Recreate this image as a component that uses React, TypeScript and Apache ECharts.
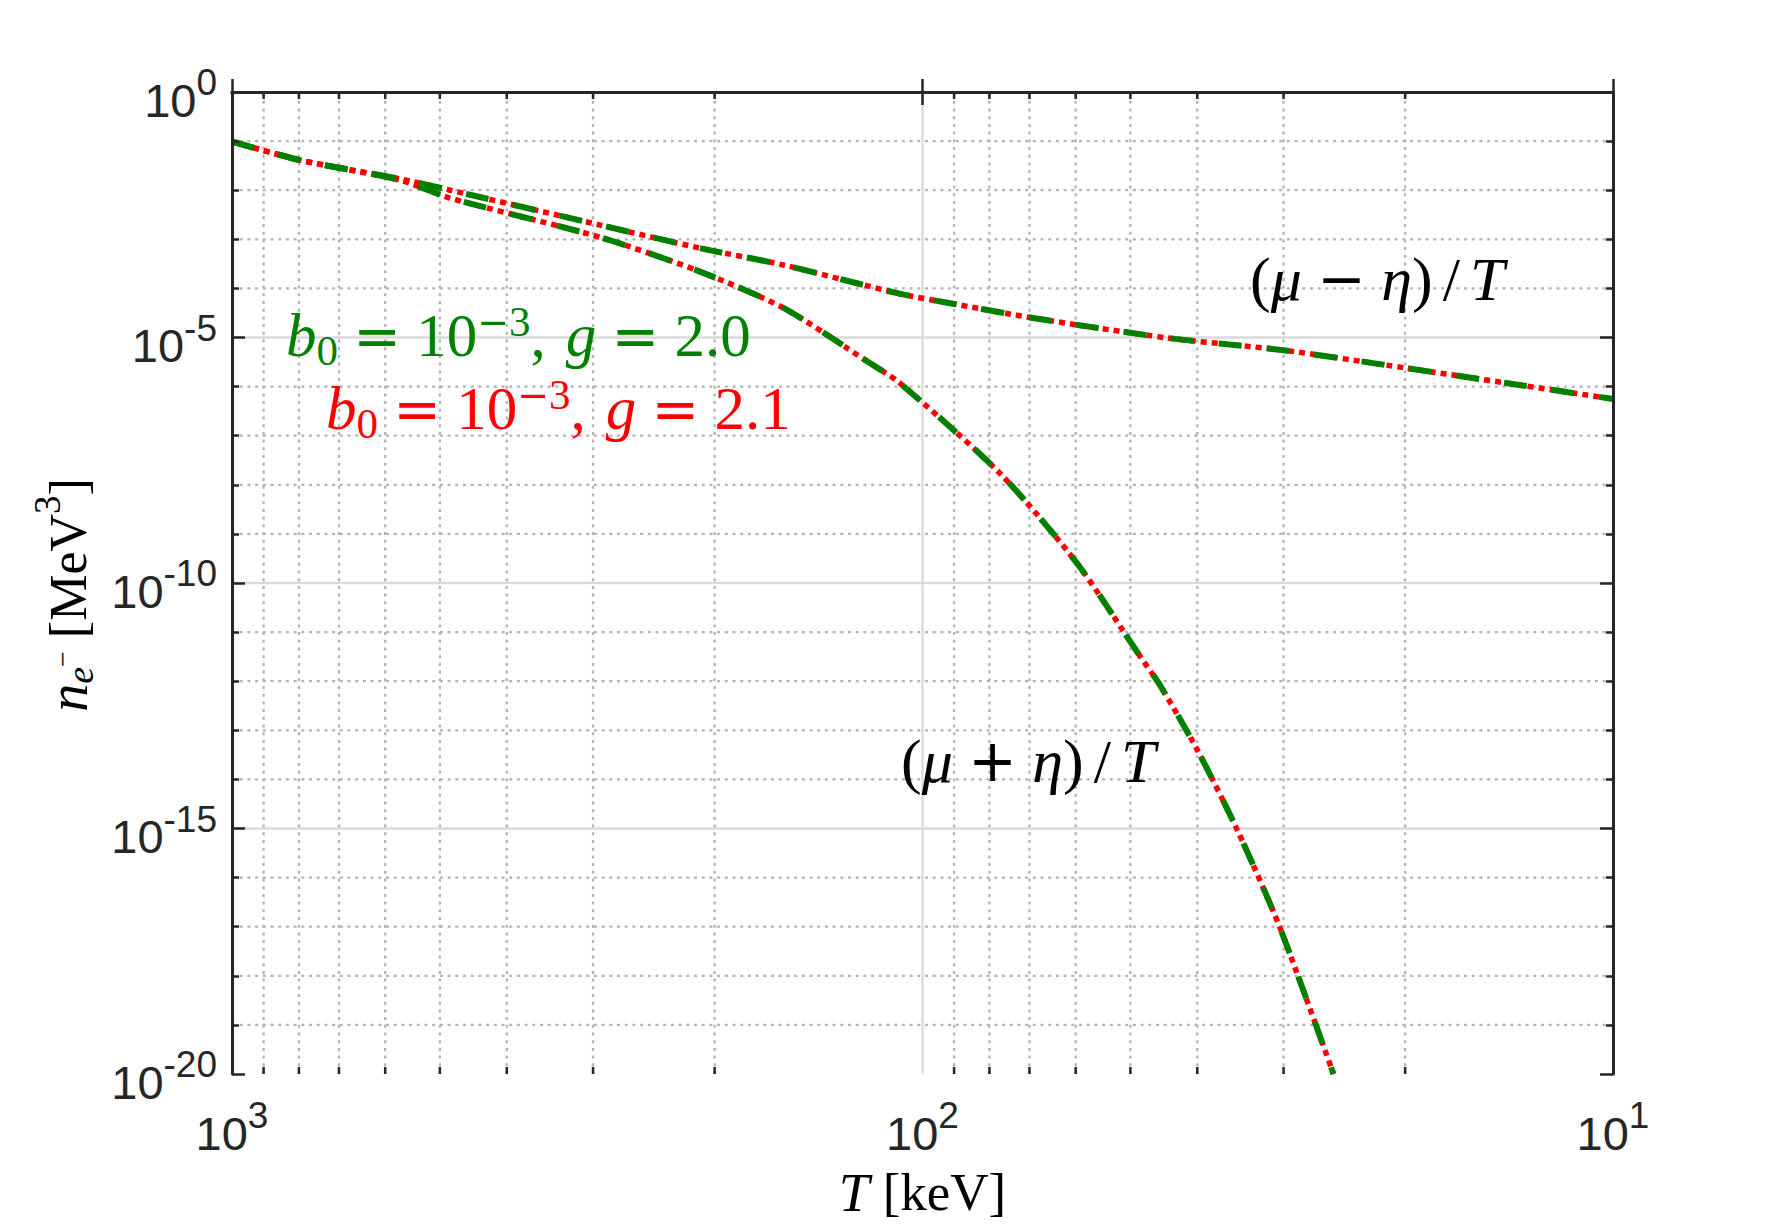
import React, { useEffect, useRef } from 'react';
import * as echarts from 'echarts';

// ---- data (T in keV, n in MeV^3) ----
// (mu - eta)/T branch, g = 2.0
const T_UPPER_G20 = [1000, 797, 571, 483, 293, 210, 159, 108, 91.2, 69.2, 44.2, 30, 20, 10];
const N_UPPER_G20 = [9.8e-2, 4.1e-2, 1.7e-2, 1.0e-2, 1.95e-3, 6.6e-4, 3.0e-4, 7.8e-5, 5.0e-5, 2.5e-5, 9.8e-6, 5.5e-6, 2.4e-6, 5.6e-7];
// (mu + eta)/T branch, g = 2.0
const T_LOWER_G20 = [1000, 797, 571, 483, 293, 210, 159, 120, 108, 77.2, 59.7, 48.4, 45.3, 40, 35, 30.4, 25.4];
const N_LOWER_G20 = [9.8e-2, 4.1e-2, 1.6e-2, 6.9e-3, 1.1e-3, 2.2e-4, 4.0e-5, 3.2e-6, 1.2e-6, 1.7e-8, 2.5e-10, 3.2e-12, 8.3e-13, 4.0e-14, 9.3e-16, 1.0e-17, 1.0e-20];
// g = 2.1 curves (coincide with g = 2.0 at the resolution of the picture)
const T_UPPER_G21 = [1000, 797, 571, 483, 293, 210, 159, 108, 91.2, 69.2, 44.2, 30, 20, 10];
const N_UPPER_G21 = [9.8e-2, 4.1e-2, 1.7e-2, 1.0e-2, 1.95e-3, 6.6e-4, 3.0e-4, 7.8e-5, 5.0e-5, 2.5e-5, 9.8e-6, 5.5e-6, 2.4e-6, 5.6e-7];
const T_LOWER_G21 = [1000, 797, 571, 483, 293, 210, 159, 120, 108, 77.2, 59.7, 48.4, 45.3, 40, 35, 30.4, 25.4];
const N_LOWER_G21 = [9.8e-2, 4.1e-2, 1.6e-2, 6.9e-3, 1.1e-3, 2.2e-4, 4.0e-5, 3.2e-6, 1.2e-6, 1.7e-8, 2.5e-10, 3.2e-12, 8.3e-13, 4.0e-14, 9.3e-16, 1.0e-17, 1.0e-20];

// ---- axes ----
const X_MIN = 10;
const X_MAX = 1000;
const Y_MIN = 1e-20;
const Y_MAX = 1;
const Y_TICK_EXPONENTS = [0, -5, -10, -15, -20];
const X_MAJOR_GRID = [100];
const X_MINOR_GRID = [900, 800, 700, 600, 500, 400, 300, 200, 90, 80, 70, 60, 50, 40, 30, 20];
const Y_MAJOR_GRID = [1e-5, 1e-10, 1e-15];
const Y_MINOR_GRID = [
  1e-1, 1e-2, 1e-3, 1e-4, 1e-6, 1e-7, 1e-8, 1e-9, 1e-11, 1e-12, 1e-13, 1e-14,
  1e-16, 1e-17, 1e-18, 1e-19,
];

const SANS = '"Liberation Sans", Arial, Helvetica, sans-serif';
const SERIF = '"Liberation Serif", "Times New Roman", serif';
const OPS = '"DejaVu Sans", sans-serif';
const AXIS_COLOR = '#262626';
const MINOR_GRID = '#b3b3b3';
const MAJOR_GRID = '#dadada';

const pairs = (xs: number[], ys: number[]) => xs.map((x, i) => [x, ys[i]]);

const tickRich = {
  b: { fontFamily: SANS, fontSize: 47, lineHeight: 70, height: 54, verticalAlign: 'bottom', color: AXIS_COLOR },
  s: { fontFamily: SANS, fontSize: 37, lineHeight: 51, height: 51, verticalAlign: 'top', color: AXIS_COLOR },
};

const annRich = (color: string, size: number) => ({
  r: { fontFamily: SERIF, fontSize: size, lineHeight: 70, height: 70, verticalAlign: 'middle', fill: color, color },
  i: { fontFamily: SERIF, fontStyle: 'italic', fontSize: size, lineHeight: 70, height: 70, verticalAlign: 'middle', fill: color, color },
  op: { fontFamily: OPS, fontSize: Math.round(size * 0.93), lineHeight: 70, height: 70, verticalAlign: 'middle', fill: color, color },
  ts: { fontFamily: SERIF, fontSize: 40, lineHeight: 70, height: 70, verticalAlign: 'middle', fill: color, color },
  sup: { fontFamily: SERIF, fontSize: Math.round(size * 0.7), lineHeight: 42, height: 42, verticalAlign: 'top', fill: color, color },
  supop: { fontFamily: OPS, fontSize: Math.round(size * 0.62), lineHeight: 42, height: 42, verticalAlign: 'top', fill: color, color },
  sub: { fontFamily: SERIF, fontSize: Math.round(size * 0.7), lineHeight: 41, height: 41, verticalAlign: 'bottom', fill: color, color },
});

const tickLine = { color: AXIS_COLOR, width: 2.5 };

function buildOption(): any {
  return {
    animation: false,
    backgroundColor: '#ffffff',
    grid: { left: 232, top: 92, width: 1381, height: 982, containLabel: false },
    xAxis: [
      {
        type: 'log',
        logBase: 10,
        min: X_MIN,
        max: X_MAX,
        inverse: true,
        position: 'bottom',
        z: 10,
        axisLine: { show: true, lineStyle: { color: AXIS_COLOR, width: 3 } },
        axisTick: { show: true, inside: true, length: 13, lineStyle: tickLine },
        splitLine: { show: false },
        axisLabel: {
          margin: 16,
          formatter: (v: number) => `{b|10}{s|${Math.round(Math.log10(v))}}`,
          rich: tickRich,
        },
        name: '{i|T}{r| [keV]}',
        nameLocation: 'middle',
        nameGap: 85,
        nameTextStyle: {
          color: '#000',
          rich: {
            i: { fontFamily: SERIF, fontStyle: 'italic', fontSize: 55, lineHeight: 60, verticalAlign: 'middle', color: '#000' },
            r: { fontFamily: SERIF, fontSize: 53, lineHeight: 60, verticalAlign: 'middle', color: '#000' },
          },
        },
      },
      {
        type: 'log',
        logBase: 10,
        min: X_MIN,
        max: X_MAX,
        inverse: true,
        position: 'top',
        z: 10,
        axisLine: { show: true, lineStyle: { color: AXIS_COLOR, width: 3 } },
        axisTick: { show: true, inside: true, length: 13, lineStyle: tickLine },
        splitLine: { show: false },
        axisLabel: { show: false },
      },
    ],
    yAxis: [
      {
        type: 'log',
        logBase: 10,
        min: Y_MIN,
        max: Y_MAX,
        show: false,
      },
      {
        type: 'value',
        min: Y_TICK_EXPONENTS[Y_TICK_EXPONENTS.length - 1],
        max: Y_TICK_EXPONENTS[0],
        interval: 5,
        position: 'left',
        z: 10,
        axisLine: { show: true, lineStyle: { color: AXIS_COLOR, width: 3 } },
        axisTick: { show: true, inside: true, length: 13, lineStyle: tickLine },
        minorTick: { show: true, splitNumber: 5, length: 7, lineStyle: tickLine },
        splitLine: { show: false },
        axisLabel: {
          margin: 15,
          formatter: (v: number) => `{b|10}{s|${v}}`,
          rich: tickRich,
        },
        name: '{i|n}{sub|e}{ss|−}{r| [MeV}{sup|3}{r|]}',
        nameLocation: 'middle',
        nameGap: 130,
        nameTextStyle: {
          color: '#000',
          padding: [0, 24, 0, 0],
          rich: {
            i: { fontFamily: SERIF, fontStyle: 'italic', fontSize: 56, lineHeight: 64, height: 64, verticalAlign: 'middle', color: '#000' },
            r: { fontFamily: SERIF, fontSize: 52, lineHeight: 64, height: 64, verticalAlign: 'middle', color: '#000' },
            sub: { fontFamily: SERIF, fontStyle: 'italic', fontSize: 38, lineHeight: 40, height: 40, verticalAlign: 'bottom', color: '#000' },
            ss: { fontFamily: SERIF, fontSize: 28, lineHeight: 52, height: 52, verticalAlign: 'top', color: '#000' },
            sup: { fontFamily: SERIF, fontSize: 37, lineHeight: 22, height: 22, verticalAlign: 'top', color: '#000' },
          },
        },
      },
      {
        type: 'value',
        min: Y_TICK_EXPONENTS[Y_TICK_EXPONENTS.length - 1],
        max: Y_TICK_EXPONENTS[0],
        interval: 5,
        position: 'right',
        z: 10,
        axisLine: { show: true, lineStyle: { color: AXIS_COLOR, width: 3 } },
        axisTick: { show: true, inside: true, length: 13, lineStyle: tickLine },
        minorTick: { show: true, splitNumber: 5, length: 7, lineStyle: tickLine },
        splitLine: { show: false },
        axisLabel: { show: false },
      },
    ],
    series: [
      // vertical minor grid lines + minor x ticks
      {
        type: 'custom',
        xAxisIndex: 0,
        yAxisIndex: 0,
        z: 1,
        silent: true,
        data: X_MINOR_GRID.map((t) => [t, Y_MIN]),
        renderItem: (_p: any, api: any) => {
          const t = api.value(0);
          const b = api.coord([t, Y_MIN]);
          const top = api.coord([t, Y_MAX]);
          return {
            type: 'group',
            children: [
              { type: 'line', shape: { x1: b[0], y1: b[1], x2: top[0], y2: top[1] }, style: { stroke: MINOR_GRID, lineWidth: 2.3, lineDash: [3, 4.7] } },
              { type: 'line', shape: { x1: b[0], y1: b[1], x2: b[0], y2: b[1] - 7 }, style: { stroke: AXIS_COLOR, lineWidth: 2.5 } },
              { type: 'line', shape: { x1: top[0], y1: top[1], x2: top[0], y2: top[1] + 7 }, style: { stroke: AXIS_COLOR, lineWidth: 2.5 } },
            ],
          };
        },
      },
      // vertical major grid lines
      {
        type: 'custom',
        xAxisIndex: 0,
        yAxisIndex: 0,
        z: 1,
        silent: true,
        data: X_MAJOR_GRID.map((t) => [t, Y_MIN]),
        renderItem: (_p: any, api: any) => {
          const t = api.value(0);
          const b = api.coord([t, Y_MIN]);
          const top = api.coord([t, Y_MAX]);
          return { type: 'line', shape: { x1: b[0], y1: b[1], x2: top[0], y2: top[1] }, style: { stroke: MAJOR_GRID, lineWidth: 2.3 } };
        },
      },
      // horizontal minor grid lines
      {
        type: 'custom',
        xAxisIndex: 0,
        yAxisIndex: 0,
        z: 1,
        silent: true,
        data: Y_MINOR_GRID.map((v) => [X_MAX, v]),
        renderItem: (_p: any, api: any) => {
          const v = api.value(1);
          const l = api.coord([X_MAX, v]);
          const r = api.coord([X_MIN, v]);
          return { type: 'line', shape: { x1: l[0], y1: l[1], x2: r[0], y2: r[1] }, style: { stroke: MINOR_GRID, lineWidth: 2.3, lineDash: [3, 4.7] } };
        },
      },
      // horizontal major grid lines
      {
        type: 'custom',
        xAxisIndex: 0,
        yAxisIndex: 0,
        z: 1,
        silent: true,
        data: Y_MAJOR_GRID.map((v) => [X_MAX, v]),
        renderItem: (_p: any, api: any) => {
          const v = api.value(1);
          const l = api.coord([X_MAX, v]);
          const r = api.coord([X_MIN, v]);
          return { type: 'line', shape: { x1: l[0], y1: l[1], x2: r[0], y2: r[1] }, style: { stroke: MAJOR_GRID, lineWidth: 2.3 } };
        },
      },
      // g = 2.1 (red, dotted)
      {
        name: 'g = 2.1, (μ−η)/T',
        type: 'line',
        xAxisIndex: 0,
        yAxisIndex: 0,
        z: 2,
        data: pairs(T_UPPER_G21, N_UPPER_G21),
        showSymbol: false,
        smooth: 0.25,
        lineStyle: { color: '#ff0000', width: 5.5, type: [6, 5] },
      },
      {
        name: 'g = 2.1, (μ+η)/T',
        type: 'line',
        xAxisIndex: 0,
        yAxisIndex: 0,
        z: 2,
        data: pairs(T_LOWER_G21, N_LOWER_G21),
        showSymbol: false,
        smooth: 0.25,
        lineStyle: { color: '#ff0000', width: 5.5, type: [6, 5] },
      },
      // g = 2.0 (green, dashed)
      {
        name: 'g = 2.0, (μ−η)/T',
        type: 'line',
        xAxisIndex: 0,
        yAxisIndex: 0,
        z: 3,
        data: pairs(T_UPPER_G20, N_UPPER_G20),
        showSymbol: false,
        smooth: 0.25,
        lineStyle: { color: '#008000', width: 6, type: [23, 25] },
      },
      {
        name: 'g = 2.0, (μ+η)/T',
        type: 'line',
        xAxisIndex: 0,
        yAxisIndex: 0,
        z: 3,
        data: pairs(T_LOWER_G20, N_LOWER_G20),
        showSymbol: false,
        smooth: 0.25,
        lineStyle: { color: '#008000', width: 6, type: [23, 25] },
      },
    ],
    graphic: [
      {
        type: 'text',
        left: 286,
        top: 300,
        z: 50,
        style: {
          text: '{i|b}{sub|0}{r| }{op|=}{r| 10}{supop|−}{sup|3}{r|,}{ts|  }{i|g}{r| }{op|=}{r| 2.0}',
          rich: annRich('#008000', 61),
          fill: '#008000',
        },
      },
      {
        type: 'text',
        left: 326,
        top: 373,
        z: 50,
        style: {
          text: '{i|b}{sub|0}{r| }{op|=}{r| 10}{supop|−}{sup|3}{r|,}{ts|  }{i|g}{r| }{op|=}{r| 2.1}',
          rich: annRich('#ff0000', 61),
          fill: '#ff0000',
        },
      },
      {
        type: 'text',
        left: 1250,
        top: 244,
        z: 50,
        style: {
          text: '{r|(}{i|μ}{r| }{op|−}{r| }{i|η}{r|)}{ts| }{r|/}{ts| }{i|T}',
          rich: annRich('#000000', 62),
          fill: '#000000',
        },
      },
      {
        type: 'text',
        left: 901,
        top: 726,
        z: 50,
        style: {
          text: '{r|(}{i|μ}{r| }{op|+}{r| }{i|η}{r|)}{ts| }{r|/}{ts| }{i|T}',
          rich: annRich('#000000', 62),
          fill: '#000000',
        },
      },
    ],
  };
}

export default function App() {
  const ref = useRef<HTMLDivElement>(null);
  useEffect(() => {
    if (!ref.current) return;
    const chart = echarts.init(ref.current, null, { renderer: 'svg' });
    chart.setOption(buildOption());
    return () => chart.dispose();
  }, []);
  return (
    <div
      ref={ref}
      style={{ position: 'fixed', left: 0, top: 0, width: 1782, height: 1226, background: '#ffffff' }}
    />
  );
}
